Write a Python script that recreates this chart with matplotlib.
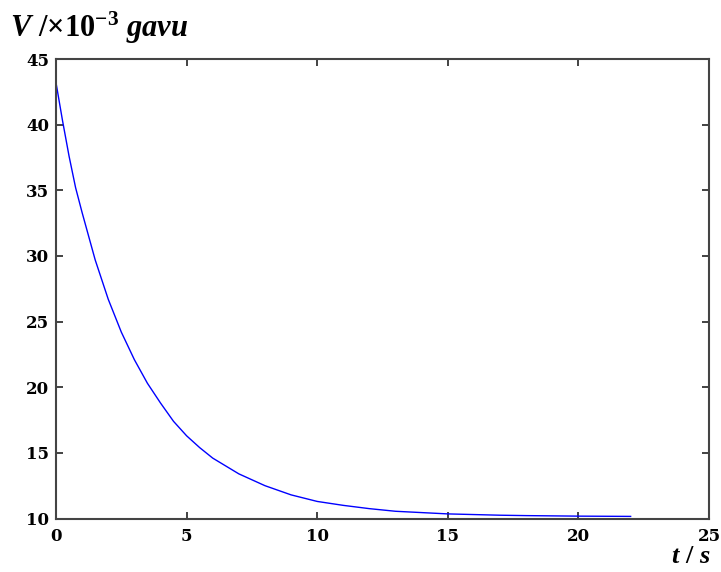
import matplotlib
matplotlib.use("Agg")
import matplotlib.pyplot as plt

# Data
t = [0, 0.25, 0.5, 0.75, 1, 1.5, 2, 2.5, 3, 3.5, 4, 4.5, 5, 5.5, 6, 7, 8, 9, 10,
     11, 12, 13, 14, 15, 16, 17, 18, 19, 20, 21, 22]
V = [43.2, 40.3, 37.6, 35.2, 33.3, 29.7, 26.7, 24.2, 22.1, 20.3, 18.8, 17.4,
     16.3, 15.4, 14.6, 13.4, 12.5, 11.8, 11.3, 11.0, 10.75, 10.55, 10.45,
     10.35, 10.3, 10.25, 10.22, 10.2, 10.18, 10.17, 10.16]
xticks = [0, 5, 10, 15, 20, 25]
yticks = [10, 15, 20, 25, 30, 35, 40, 45]

plt.rcParams['mathtext.fontset'] = 'custom'
plt.rcParams['mathtext.rm'] = 'Liberation Serif:bold'
plt.rcParams['mathtext.it'] = 'Liberation Serif:italic:bold'
plt.rcParams['mathtext.bf'] = 'Liberation Serif:bold'

fig = plt.figure(figsize=(7.21, 5.72), dpi=100)
ax = fig.add_axes([56/721, 1-518.5/572, (709-56)/721, (518.5-59)/572])
ax.plot(t, V, color='#0000ff', lw=1.0)
ax.set_xlim(0, 25)
ax.set_ylim(10, 45)
ax.set_xticks(xticks)
ax.set_yticks(yticks)
ax.tick_params(direction='in', top=True, right=True, length=5, width=1.2,
               color='#222222')
ax.tick_params(axis='x', pad=7)
ax.tick_params(axis='y', pad=5)
for lab in ax.get_xticklabels() + ax.get_yticklabels():
    lab.set_fontfamily('DejaVu Serif')
    lab.set_fontweight('heavy')
    lab.set_fontsize(12)
for s in ax.spines.values():
    s.set_linewidth(1.5)
    s.set_color('#444444')

fig.text(10/721, 1-28/572, r"$V\ /{\times}10^{-3}\ gavu$", fontsize=22,
         ha='left', va='center')
fig.text(711/721, 1-556/572, r"$t\ /\ s$", fontsize=19,
         ha='right', va='center')

fig.savefig("out.png", dpi=100)
